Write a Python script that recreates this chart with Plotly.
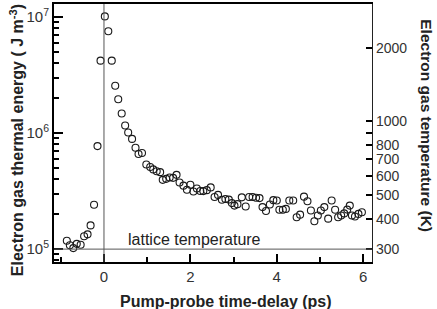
import plotly.graph_objects as go

# Pump-probe time delay (ps)
delay_ps = [-0.86, -0.79, -0.71, -0.63, -0.54, -0.46, -0.38, -0.31, -0.23, -0.15,
            -0.08, 0.02, 0.10, 0.18, 0.26, 0.33, 0.41, 0.49, 0.56, 0.65,
            0.73, 0.80, 0.88, 0.98, 1.07, 1.14, 1.22, 1.30, 1.36, 1.44,
            1.52, 1.60, 1.68, 1.75, 1.84, 1.92, 2.00, 2.07, 2.15, 2.23,
            2.30, 2.38, 2.47, 2.56, 2.64, 2.73, 2.81, 2.89, 2.96, 3.02,
            3.09, 3.19, 3.28, 3.36, 3.44, 3.52, 3.60, 3.67, 3.75, 3.84,
            3.92, 4.00, 4.06, 4.14, 4.21, 4.29, 4.38, 4.46, 4.54, 4.63,
            4.71, 4.79, 4.87, 4.95, 5.02, 5.10, 5.19, 5.27, 5.35, 5.42,
            5.49, 5.56, 5.63, 5.69, 5.74, 5.81, 5.89, 5.97]

# Electron gas thermal energy (J m^-3)
energy = [1.18e5, 1.08e5, 1.02e5, 1.11e5, 1.09e5, 1.29e5, 1.34e5, 1.60e5, 2.41e5, 7.71e5,
          4.20e6, 1.01e7, 7.52e6, 4.20e6, 2.55e6, 1.95e6, 1.47e6, 1.16e6, 1.01e6, 8.90e5,
          7.46e5, 6.59e5, 6.72e5, 5.36e5, 5.10e5, 4.86e5, 4.69e5, 4.60e5, 3.95e5, 4.03e5,
          4.14e5, 4.11e5, 4.36e5, 3.75e5, 3.52e5, 3.25e5, 3.58e5, 3.13e5, 3.33e5, 3.17e5,
          3.16e5, 3.22e5, 3.40e5, 2.81e5, 2.93e5, 2.66e5, 2.70e5, 2.67e5, 2.49e5, 2.37e5,
          2.44e5, 2.79e5, 2.33e5, 2.81e5, 2.81e5, 2.77e5, 2.75e5, 2.30e5, 2.13e5, 2.42e5,
          2.64e5, 2.62e5, 2.18e5, 2.18e5, 2.22e5, 2.62e5, 2.62e5, 1.88e5, 1.98e5, 2.83e5,
          2.58e5, 2.15e5, 1.74e5, 1.95e5, 2.15e5, 2.30e5, 1.83e5, 2.62e5, 2.18e5, 1.88e5,
          1.95e5, 2.03e5, 2.19e5, 2.37e5, 1.95e5, 1.91e5, 2.01e5, 2.08e5]

# Axis ticks
x_major = [0, 2, 4, 6]
x_minor = [-1, 1, 3, 5]
e_major = [1e5, 1e6, 1e7]
e_major_text = ["10<sup>5</sup>", "10<sup>6</sup>", "10<sup>7</sup>"]
e_minor = [8e4, 9e4] + [k * 1e5 for k in range(2, 10)] + [k * 1e6 for k in range(2, 10)]
temp_ticks = [300, 400, 500, 600, 700, 800, 900, 1000, 2000]
temp_text = ["300", "400", "500", "600", "700", "800", " ", "1000", "2000"]

zero_delay = 0
lattice_energy = 1e5
lattice_label = "lattice temperature"

FONT = "Liberation Sans, Arial, sans-serif"
TXT = "#222222"

fig = go.Figure()
fig.add_trace(go.Scatter(
    x=delay_ps, y=energy, mode="markers",
    marker=dict(symbol="circle-open", size=7, color="#1a1a1a", line=dict(width=1.1)),
    showlegend=False, hoverinfo="skip"))
# empty trace so that the temperature axis is drawn
fig.add_trace(go.Scatter(x=[None], y=[None], yaxis="y2", mode="markers",
                         showlegend=False, hoverinfo="skip"))

fig.add_vline(x=zero_delay, line=dict(color="#555555", width=1))
fig.add_hline(y=lattice_energy, line=dict(color="#555555", width=1))

fig.add_annotation(x=0.52, y=5, xref="x", yref="y", text=lattice_label,
                   showarrow=False, xanchor="left", yanchor="bottom", yshift=-1,
                   font=dict(family=FONT, size=16, color=TXT))

fig.add_annotation(x=-0.1164, y=0.472, xref="paper", yref="paper",
                   text="<b>Electron gas thermal energy ( J m<sup>-3</sup>)</b>",
                   textangle=-90, showarrow=False, xanchor="center", yanchor="middle",
                   font=dict(family=FONT, size=16, color=TXT))
fig.add_annotation(x=1.173, y=0.53, xref="paper", yref="paper",
                   text="<b>Electron gas temperature (K)</b>",
                   textangle=90, showarrow=False, xanchor="center", yanchor="middle",
                   font=dict(family=FONT, size=15.5, color=TXT))
fig.add_annotation(x=0.541, y=-0.154, xref="paper", yref="paper",
                   text="<b>Pump-probe time-delay (ps)</b>",
                   showarrow=False, xanchor="center", yanchor="middle",
                   font=dict(family=FONT, size=16, color=TXT))

fig.update_layout(
    width=437, height=309,
    margin=dict(l=54, r=65, t=2, b=47),
    paper_bgcolor="white", plot_bgcolor="white",
    font=dict(family=FONT, color=TXT),
    xaxis=dict(range=[-1.157, 6.204], showgrid=False, zeroline=False,
               showline=True, linecolor="black", linewidth=2, mirror=True,
               tickmode="array", tickvals=x_major, ticks="inside", ticklen=8,
               tickwidth=2, tickcolor="black", tickfont=dict(size=15, color="#333333"),
               minor=dict(tickmode="array", tickvals=x_minor, ticks="inside",
                          ticklen=5, tickwidth=2, tickcolor="black")),
    yaxis=dict(type="log", range=[4.889, 7.111], showgrid=False, zeroline=False,
               showline=True, linecolor="black", linewidth=2,
               tickmode="array", tickvals=e_major, ticktext=e_major_text,
               ticks="inside", ticklen=9, tickwidth=2, tickcolor="black",
               tickfont=dict(size=15, color="#333333"),
               minor=dict(tickmode="array", tickvals=e_minor, ticks="inside",
                          ticklen=5, tickwidth=2, tickcolor="black")),
    yaxis2=dict(type="log", range=[2.4251, 3.4798], overlaying="y", side="right",
                showgrid=False, zeroline=False, showline=True, linecolor="#222222",
                linewidth=1.3, tickmode="array", tickvals=temp_ticks, ticktext=temp_text,
                ticks="inside", ticklen=6, tickwidth=2, tickcolor="black",
                tickfont=dict(size=14, color="#333333")),
)

fig.write_html("out.html", config={"displayModeBar": False},
               post_script="document.body.style.margin='0';")
